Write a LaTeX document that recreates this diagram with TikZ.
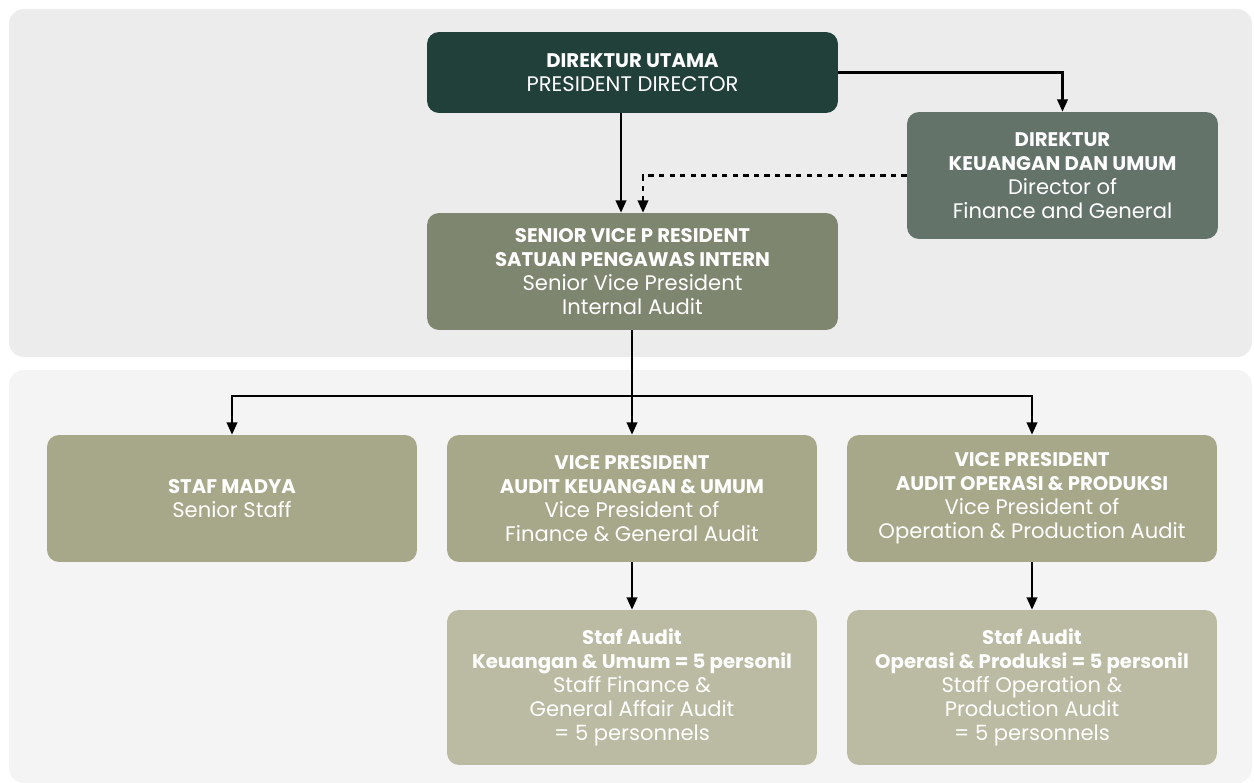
\documentclass[tikz,border=0pt]{standalone}
\usepackage{fontspec}
\setmainfont{Poppins}
\usetikzlibrary{positioning, arrows.meta, calc}

\definecolor{topgreen}{HTML}{21403A}
\definecolor{dirgreen}{HTML}{637369}
\definecolor{svpgreen}{HTML}{7E8670}
\definecolor{vpgreen}{HTML}{A7A88A}
\definecolor{staffgreen}{HTML}{BBBBA3}
\definecolor{paneltop}{HTML}{ECECEC}
\definecolor{panelbot}{HTML}{F4F4F4}

\newcommand{\hd}[1]{{\fontsize{11.2}{13.6}\selectfont\bfseries #1}}

\begin{document}
\begin{tikzpicture}[
    x=0.02cm, y=-0.02cm,
    box/.style={
        rectangle,
        rounded corners=0.24cm,
        text=white,
        align=center,
        inner sep=2pt,
        font=\fontsize{12}{13.6}\selectfont
    },
    ptr/.style={
        -{Triangle[length=7pt,width=6pt]},
        line width=1.2pt,
        black
    },
    panel/.style={
        rounded corners=0.3cm
    }
]

    \useasboundingbox (0,0) rectangle (1254,783);

    % Panels
    \fill[panel, paneltop] (9,9) rectangle (1252,357);
    \fill[panel, panelbot] (9,370) rectangle (1252,783);

    % Nodes
    \node[box, fill=topgreen, minimum width=8.22cm, minimum height=1.62cm] (du) at (632.5,72.5)
        {\hd{DIREKTUR UTAMA}\\PRESIDENT DIRECTOR};
    \node[box, fill=dirgreen, minimum width=6.22cm, minimum height=2.54cm] (dku) at (1062.5,175.5)
        {\hd{DIREKTUR}\\\hd{KEUANGAN DAN UMUM}\\Director of\\Finance and General};
    \node[box, fill=svpgreen, minimum width=8.22cm, minimum height=2.34cm] (svp) at (632.5,271.5)
        {\hd{SENIOR VICE P RESIDENT}\\\hd{SATUAN PENGAWAS INTERN}\\Senior Vice President\\Internal Audit};

    \node[box, fill=vpgreen, minimum width=7.4cm, minimum height=2.54cm] (madya) at (232,498.5)
        {\hd{STAF MADYA}\\Senior Staff};
    \node[box, fill=vpgreen, minimum width=7.4cm, minimum height=2.54cm] (vpku) at (632,498.5)
        {\hd{VICE PRESIDENT}\\\hd{AUDIT KEUANGAN \& UMUM}\\Vice President of\\Finance \& General Audit};
    \node[box, fill=vpgreen, minimum width=7.4cm, minimum height=2.54cm] (vpop) at (1032,498.5)
        {\hd{VICE PRESIDENT}\\\hd{AUDIT OPERASI \& PRODUKSI}\\Vice President of\\Operation \& Production Audit};

    \node[box, fill=staffgreen, minimum width=7.4cm, minimum height=3.1cm] (stku) at (632,687.5)
        {\hd{Staf Audit}\\\hd{Keuangan \& Umum = 5 personil}\\Staff Finance \&\\General Affair Audit\\= 5 personnels};
    \node[box, fill=staffgreen, minimum width=7.4cm, minimum height=3.1cm] (stop) at (1032,687.5)
        {\hd{Staf Audit}\\\hd{Operasi \& Produksi = 5 personil}\\Staff Operation \&\\Production Audit\\= 5 personnels};

    % Bus point under the SVP
    \coordinate (bus) at (632,396);

    % Pointers
    \draw[ptr] (du.south -| 621,0) -- (svp.north -| 621,0);
    \draw[ptr] (du.east) -| (dku.north);
    \draw[ptr, dashed] (dku.west) -| (svp.north -| 643,0);

    \draw[line width=1.2pt] (svp.south -| bus) -- (bus);
    \draw[ptr] (bus) -- (vpku.north);
    \draw[ptr] (bus) -| (madya.north);
    \draw[ptr] (bus) -| (vpop.north);

    \draw[ptr] (vpku) -- (stku);
    \draw[ptr] (vpop) -- (stop);

\end{tikzpicture}
\end{document}
